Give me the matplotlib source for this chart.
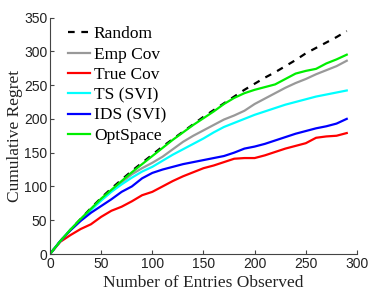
import matplotlib
matplotlib.use("Agg")
import matplotlib.pyplot as plt

# entries observed (every 10)
entries = list(range(0, 300, 10))

random_regret = [0, 19, 36, 52, 68, 83, 97, 110, 123, 135, 147, 159, 170, 181, 192,
                 203, 213, 223, 233, 243, 252, 261, 269, 278, 287, 297, 305, 313, 321, 330]
emp_cov = [0, 19, 36, 51, 66, 80, 93, 106, 118, 127, 135, 144, 155, 166, 175,
           183, 191, 199, 205, 212, 222, 230, 238, 246, 253, 259, 266, 272, 278, 286]
true_cov = [0, 18, 28, 37, 44, 55, 64, 70, 78, 87, 92, 100, 108, 115, 121,
            127, 131, 136, 141, 142, 142, 146, 151, 156, 160, 164, 172, 174, 175, 179]
ts_svi = [0, 19, 36, 51, 65, 79, 92, 103, 113, 122, 129, 138, 147, 155, 163,
          171, 180, 188, 194, 200, 206, 211, 216, 221, 225, 229, 233, 236, 239, 242]
ids_svi = [0, 19, 35, 49, 61, 71, 81, 92, 100, 112, 120, 125, 129, 133, 136,
           139, 142, 145, 150, 156, 159, 163, 168, 173, 178, 182, 186, 189, 193, 200]
optspace = [0, 19, 36, 52, 67, 82, 95, 108, 121, 133, 145, 157, 169, 180, 191,
            201, 211, 222, 231, 238, 243, 247, 251, 259, 267, 271, 274, 282, 288, 295]

serif = "Liberation Serif"
sans = "Liberation Sans"

fig = plt.figure(figsize=(3.74, 3.05), dpi=100)
ax = fig.add_axes([0.1337, 0.1672, 0.8208, 0.7754])

ax.plot(entries, random_regret, color="black", lw=1.6, ls=(0, (3, 3)), label="Random")
ax.plot(entries, emp_cov, color="#999999", lw=1.6, label="Emp Cov")
ax.plot(entries, true_cov, color="#ff0000", lw=1.6, label="True Cov")
ax.plot(entries, ts_svi, color="#00ffff", lw=1.6, label="TS (SVI)")
ax.plot(entries, ids_svi, color="#0000ff", lw=1.6, label="IDS (SVI)")
ax.plot(entries, optspace, color="#00ee00", lw=1.6, label="OptSpace")

ax.set_xlim(0, 300)
ax.set_ylim(0, 350)
ax.set_xticks(range(0, 301, 50))
ax.set_yticks(range(0, 351, 50))

for side in ["top", "right"]:
    ax.spines[side].set_visible(False)
for side in ["left", "bottom"]:
    ax.spines[side].set_color("#444444")
    ax.spines[side].set_linewidth(0.8)
ax.tick_params(direction="in", length=3, width=0.8, color="#444444",
               labelsize=10, pad=2)
for lbl in ax.get_xticklabels() + ax.get_yticklabels():
    lbl.set_fontfamily(sans)
    lbl.set_color("#222222")

ax.set_xlabel("Number of Entries Observed", fontfamily=serif, fontsize=12.5,
              color="#222222", labelpad=3)
ax.set_ylabel("Cumulative Regret", fontfamily=serif, fontsize=12.5,
              color="#222222", labelpad=0.5)

ax.legend(loc="upper left", frameon=False, prop={"family": serif, "size": 12.5},
          handlelength=1.3, handletextpad=0.2, labelspacing=0.24,
          borderaxespad=0.1, bbox_to_anchor=(0.03, 1.0))

fig.savefig("out.png", dpi=100)
